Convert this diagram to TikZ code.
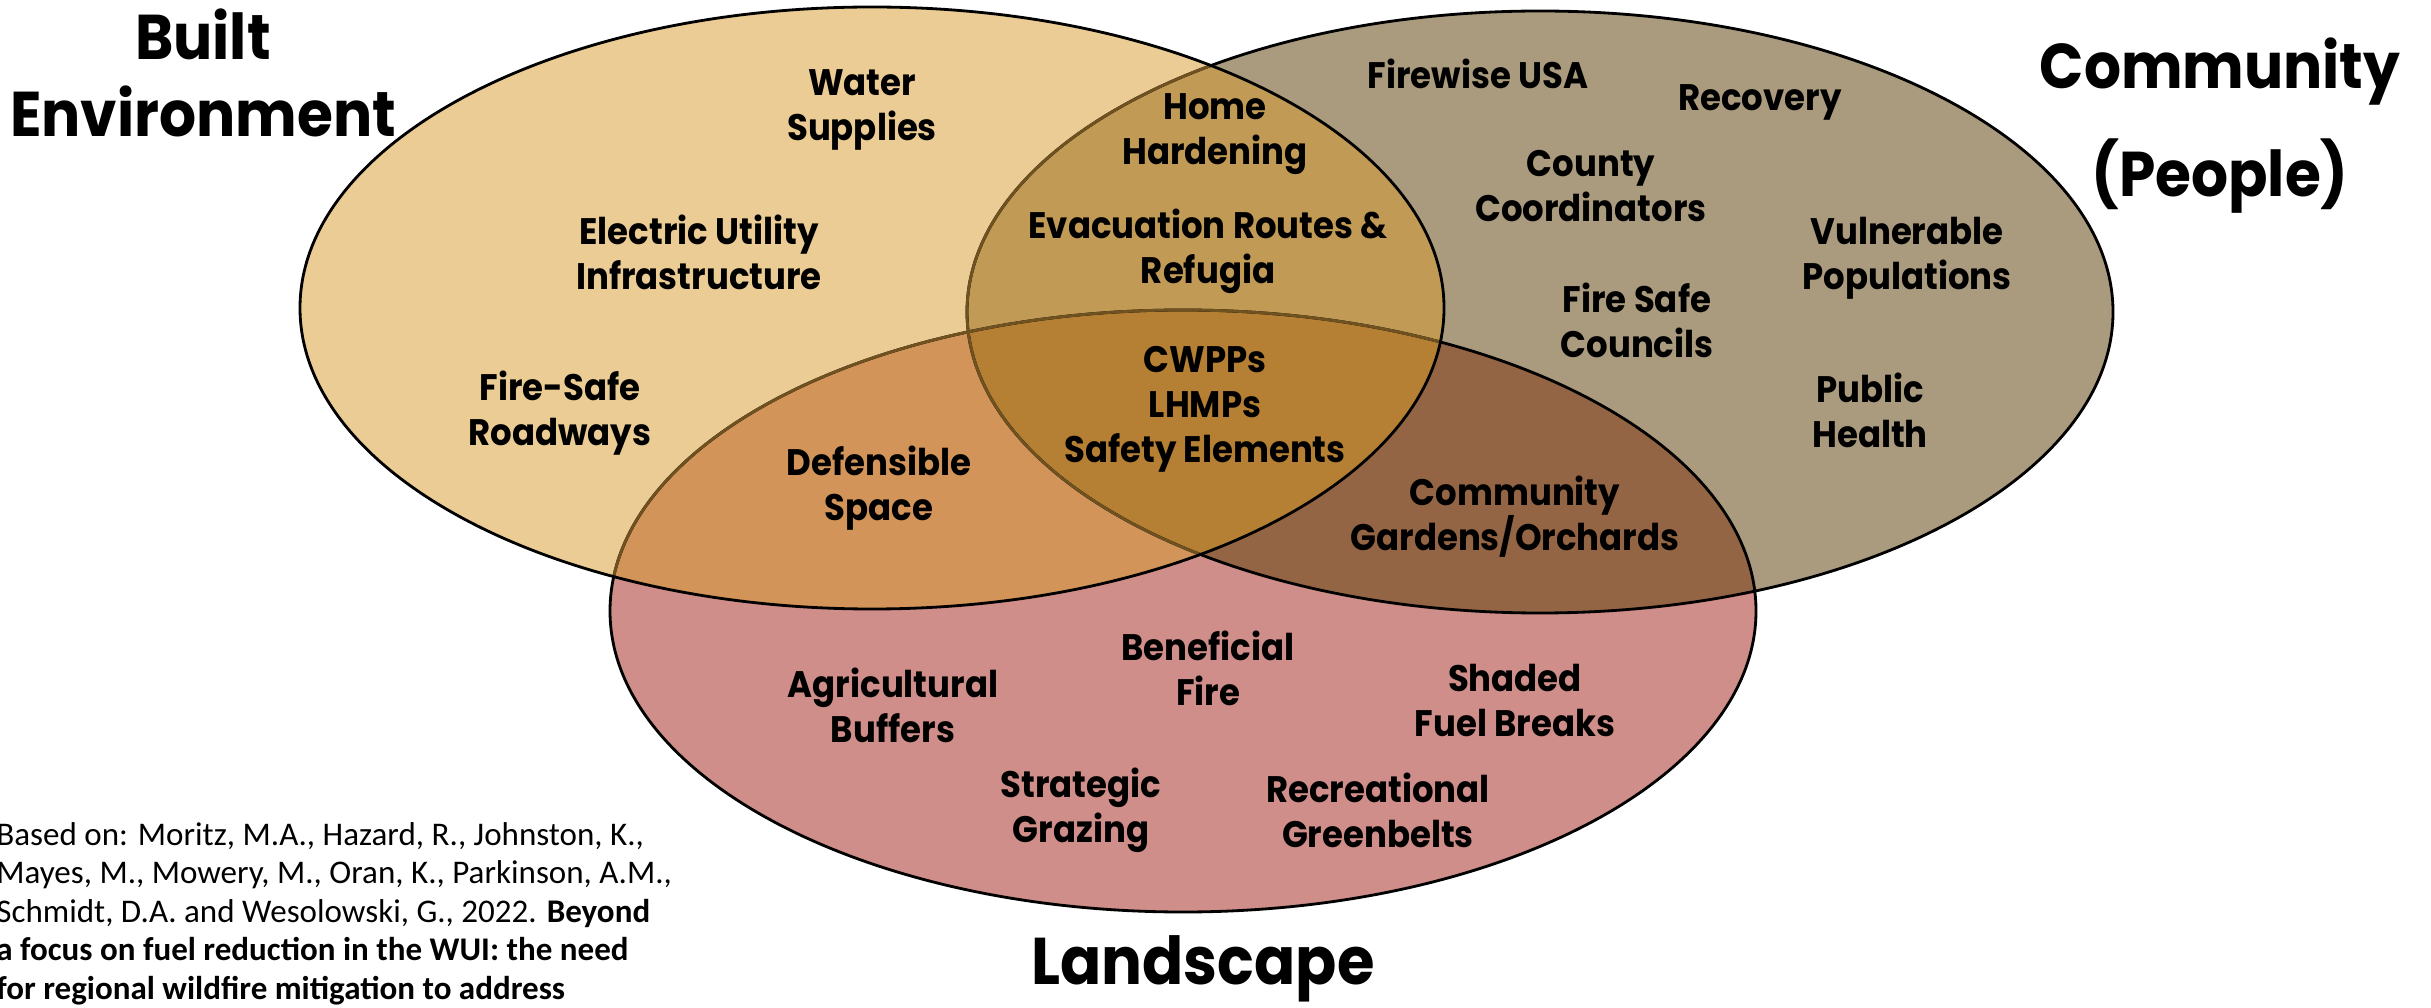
\documentclass[tikz,border=0pt]{standalone}
\usepackage{fontspec}
\setmainfont{Poppins}[FakeStretch=0.92]
\newfontfamily\citefont{Carlito}
\usepackage{tikz}

\definecolor{builtcol}{RGB}{235,204,148}
\definecolor{peoplecol}{RGB}{170,155,126}
\definecolor{landcol}{RGB}{207,142,137}
\definecolor{bpcol}{RGB}{193,155,86}
\definecolor{blcol}{RGB}{210,148,89}
\definecolor{plcol}{RGB}{148,101,69}
\definecolor{allcol}{RGB}{181,128,52}
\definecolor{rimcol}{RGB}{112,82,32}

\begin{document}
\begin{tikzpicture}[
  item/.style={font=\bfseries\fontsize{10.5}{12.8}\selectfont,align=center},
  title/.style={font=\bfseries\fontsize{18}{22}\selectfont,align=center}]
  %枠
  \useasboundingbox (0,0) rectangle (24.31,10.07);

  %中心
  \coordinate (A) at (8.72,6.99);
  \coordinate (B) at (15.40,6.95);
  \coordinate (C) at (11.83,3.96);

  %円
  \fill[builtcol] (A) ellipse (5.72 and 3.01);
  \fill[peoplecol] (B) ellipse (5.73 and 3.01);
  \fill[landcol] (C) ellipse (5.73 and 3.01);

  %重なり
  \begin{scope}
    \clip (B) ellipse (5.73 and 3.01);
    \fill[plcol] (C) ellipse (5.73 and 3.01);
  \end{scope}
  \begin{scope}
    \clip (A) ellipse (5.72 and 3.01);
    \fill[bpcol] (B) ellipse (5.73 and 3.01);
    \fill[blcol] (C) ellipse (5.73 and 3.01);
    \clip (B) ellipse (5.73 and 3.01);
    \fill[allcol] (C) ellipse (5.73 and 3.01);
  \end{scope}

  %輪郭
  \draw[line width=0.8pt] (B) ellipse (5.73 and 3.01);
  \draw[line width=0.8pt] (C) ellipse (5.73 and 3.01);
  \begin{scope}
    \clip (A) ellipse (5.72 and 3.01);
    \draw[rimcol,line width=0.8pt] (B) ellipse (5.73 and 3.01);
    \draw[rimcol,line width=0.8pt] (C) ellipse (5.73 and 3.01);
  \end{scope}
  \draw[line width=0.8pt] (A) ellipse (5.72 and 3.01);

  %見出し
  \node[title] (built) at (2.03,9.34) {Built\\Environment};
  \node[title,font=\bfseries\fontsize{18}{30.7}\selectfont] (people) at (22.20,8.81) {Community\\(People)};
  \node[title,font=\bfseries\fontsize{18.8}{22}\selectfont] (land) at (12.03,0.38) {Landscape};

  %項目
  \node[item] (water) at (8.62,8.97) {Water\\Supplies};
  \node[item] (electric) at (6.99,7.55) {Electric Utility\\Infrastructure};
  \node[item] (roads) at (5.60,5.94) {Fire-Safe\\Roadways};
  \node[item] (home) at (12.15,8.73) {Home\\Hardening};
  \node[item] (evac) at (12.08,7.56) {Evacuation Routes \&\\Refugia};
  \node[item] (cwpp) at (12.05,5.98) {CWPPs\\LHMPs\\Safety Elements};
  \node[item] (space) at (8.79,5.19) {Defensible\\Space};
  \node[item] (firewise) at (14.78,9.33) {Firewise USA};
  \node[item] (recovery) at (17.60,9.05) {Recovery};
  \node[item] (county) at (15.91,8.21) {County\\Coordinators};
  \node[item] (vulnerable) at (19.07,7.49) {Vulnerable\\Populations};
  \node[item] (councils) at (16.37,6.87) {Fire Safe\\Councils};
  \node[item] (health) at (18.70,5.97) {Public\\Health};
  \node[item] (gardens) at (15.15,4.90) {Community\\Gardens/Orchards};
  \node[item] (benefire) at (12.08,3.39) {Beneficial\\Fire};
  \node[item] (buffers) at (8.93,3.02) {Agricultural\\Buffers};
  \node[item] (breaks) at (15.15,3.07) {Shaded\\Fuel Breaks};
  \node[item] (grazing) at (10.81,1.97) {Strategic\\Grazing};
  \node[item] (greenbelts) at (13.78,1.97) {Recreational\\Greenbelts};

  %出典
  \node[anchor=north west,align=left,font=\citefont\fontsize{9.4}{10.96}\selectfont] (cite) at (-0.16,1.97)
    {Based on: Moritz, M.A., Hazard, R., Johnston, K.,\\
     Mayes, M., Mowery, M., Oran, K., Parkinson, A.M.,\\
     Schmidt, D.A. and Wesolowski, G., 2022. \textbf{Beyond}\\
     \textbf{a focus on fuel reduction in the WUI: the need}\\
     \textbf{for regional wildfire mitigation to address}};
\end{tikzpicture}
\end{document}
